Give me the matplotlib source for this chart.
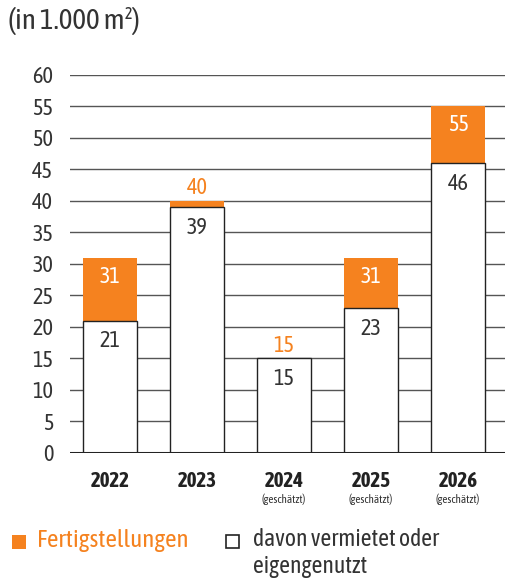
import numpy as np
import matplotlib.pyplot as plt
from matplotlib import font_manager
from matplotlib.patches import Rectangle

# data
years = ['2022', '2023', '2024', '2025', '2026']
sub_labels = ['', '', '(geschätzt)', '(geschätzt)', '(geschätzt)']
fertig = [31, 40, 15, 31, 55]          # Fertigstellungen (gesamt)
vermietet = [21, 39, 15, 23, 46]       # davon vermietet oder eigengenutzt

orange = '#F5821F'
dark = '#333333'

# schmale Schrift suchen (mit fetter Variante), sonst Roboto
fl = font_manager.fontManager.ttflist
narrow = sorted(set(f.name for f in fl if 'Narrow' in f.name or 'Condensed' in f.name))
bold_ok = [n for n in narrow
           if any(f.name == n and (f.weight in ('bold', 700) or
                                   (isinstance(f.weight, int) and f.weight >= 600))
                  for f in fl)]
fam = (bold_ok or narrow or ['Roboto'])[0]
plt.rcParams['font.family'] = [fam, 'DejaVu Sans']

fig = plt.figure(figsize=(5.06, 5.80), dpi=100)
ax = fig.add_axes([0.138, 0.219, 0.862, 0.652])

x = np.arange(len(years))
w = 0.62

# gridlines
for yv in range(5, 65, 5):
    ax.axhline(yv, color='#555555', lw=1.0, zorder=0)

ax.bar(x, fertig, width=w, color=orange, edgecolor='none', zorder=2)
ax.bar(x, vermietet, width=w, color='white', edgecolor='#222222', lw=1.0, zorder=3)
ax.axhline(0, color='#222222', lw=2.2, zorder=4)

for i in range(len(years)):
    ax.text(x[i], vermietet[i] - 3.3, str(vermietet[i]), ha='center', va='center',
            fontsize=16, color=dark, zorder=5)
    if fertig[i] - vermietet[i] >= 4:
        ax.text(x[i], fertig[i] - 3.0, str(fertig[i]), ha='center', va='center',
                fontsize=16, color='white', zorder=5)
    else:
        ax.text(x[i], fertig[i] + 2.0, str(fertig[i]), ha='center', va='center',
                fontsize=16, color=orange, zorder=5)

ax.set_xlim(-0.46, 4.55)
ax.set_ylim(0, 60)
ax.set_yticks(range(0, 65, 5))
ax.tick_params(axis='y', length=0, labelsize=16, labelcolor=dark, pad=12)
ax.set_xticks([])
for s in ax.spines.values():
    s.set_visible(False)

for i in range(len(years)):
    ax.text(x[i], -4.4, years[i], ha='center', va='center', fontsize=15,
            fontweight='bold', color='#222222')
    if sub_labels[i]:
        ax.text(x[i], -7.3, sub_labels[i], ha='center', va='center', fontsize=8,
                color=dark)

fig.text(0.016, 0.963, '(in 1.000 m²)', fontsize=21, color=dark, va='center')

# legend
fig.patches.append(Rectangle((12 / 506, 1 - 549 / 580), 14 / 506, 14 / 580,
                             transform=fig.transFigure, facecolor=orange,
                             edgecolor='none'))
fig.text(37 / 506, 1 - 540 / 580, 'Fertigstellungen', fontsize=18, color=orange,
         va='center')
fig.patches.append(Rectangle((226 / 506, 1 - 548 / 580), 13 / 506, 13 / 580,
                             transform=fig.transFigure, facecolor='white',
                             edgecolor='#222222', lw=1.2))
fig.text(253 / 506, 1 - 540 / 580, 'davon vermietet oder', fontsize=17, color=dark,
         va='center')
fig.text(253 / 506, 1 - 567 / 580, 'eigengenutzt', fontsize=17, color=dark,
         va='center')

fig.savefig('out.png', dpi=100)
